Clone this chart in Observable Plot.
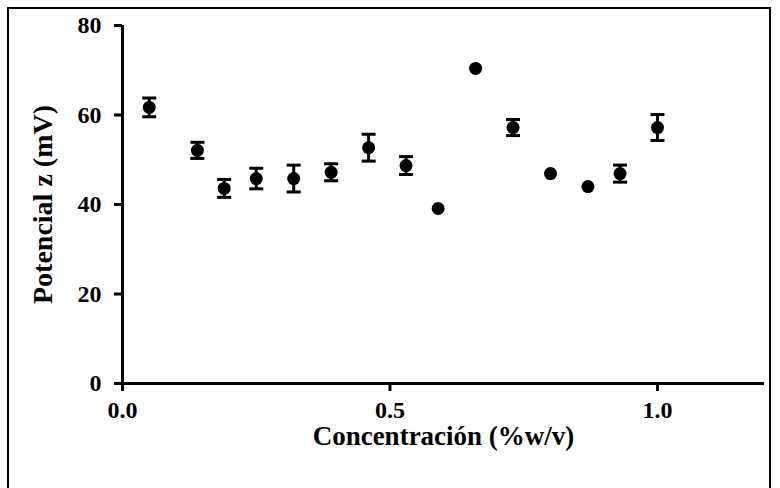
<!DOCTYPE html>
<html>
<head>
<meta charset="utf-8">
<script src="https://cdn.jsdelivr.net/npm/d3@7"></script>
<script src="https://cdn.jsdelivr.net/npm/@observablehq/plot@0.6"></script>
<style>
  html, body { margin: 0; padding: 0; background: #fff; }
  #wrap { position: relative; width: 780px; height: 488px; overflow: hidden; }
  #frame { position: absolute; left: 7px; top: 7px; width: 764px; height: 500px; border: 2px solid #000; box-sizing: border-box; pointer-events: none; }
  #chart { position: absolute; left: 0; top: 0; }
</style>
</head>
<body>
<div id="wrap"><div id="chart"></div><div id="frame"></div></div>
<script>
const concentration = [0.05, 0.14, 0.19, 0.25, 0.32, 0.39, 0.46, 0.53, 0.59, 0.66, 0.73, 0.80, 0.87, 0.93, 1.00];
const potential     = [61.7, 52.1, 43.6, 45.8, 45.8, 47.2, 52.7, 48.7, 39.1, 70.4, 57.2, 46.9, 44.0, 46.9, 57.2];
const errorSD       = [2.1, 1.8, 2.0, 2.3, 3.0, 1.9, 3.0, 2.0, 0, 0, 1.8, 0, 0, 1.9, 2.9];
const xTicks = [0, 0.5, 1.0];
const yTicks = [0, 20, 40, 60, 80];
const xLabel = "Concentración (%w/v)";
const yLabel = "Potencial z (mV)";

const data = concentration.map((c, i) => ({x: c, y: potential[i], e: errorSD[i]}));
const withErr = data.filter(d => d.e > 0);
const caps = withErr.flatMap(d => [{x: d.x, y: d.y + d.e}, {x: d.x, y: d.y - d.e}]);

const capSymbol = {
  draw(ctx, size) {
    const w = 7;
    ctx.moveTo(-w, 0);
    ctx.lineTo(w, 0);
  }
};

const font = "'Liberation Serif', 'Times New Roman', serif";
const fmtX = d3.format(".1f");

const chart = Plot.plot({
  width: 780,
  height: 488,
  marginLeft: 122,
  marginRight: 16,
  marginTop: 25,
  marginBottom: 105,
  style: {fontFamily: font, fontWeight: "bold", fontSize: "24px", color: "#000", background: "transparent"},
  x: {domain: [0, 1.2]},
  y: {domain: [0, 80]},
  marks: [
    Plot.axisX({ticks: xTicks, tickFormat: () => "", tickSize: 8, strokeWidth: 3, label: null}),
    Plot.axisY({ticks: yTicks, tickFormat: () => "", tickSize: 8, strokeWidth: 3, label: null}),
    Plot.text(xTicks, {x: d => d, frameAnchor: "bottom", dy: 27, text: d => fmtX(d), lineAnchor: "middle", textAnchor: "middle", fontSize: 24, fontWeight: "bold", fill: "#000"}),
    Plot.text(yTicks, {y: d => d, frameAnchor: "left", dx: -21, text: d => String(d), lineAnchor: "middle", textAnchor: "end", fontSize: 24, fontWeight: "bold", fill: "#000"}),
    Plot.ruleY([0], {strokeWidth: 3}),
    Plot.ruleX([0], {strokeWidth: 3}),
    Plot.ruleX(withErr, {x: "x", y1: d => d.y - d.e, y2: d => d.y + d.e, strokeWidth: 3}),
    Plot.dot(caps, {x: "x", y: "y", symbol: capSymbol, stroke: "#000", strokeWidth: 3, fill: "none", r: 7}),
    Plot.dot(data, {x: "x", y: "y", r: 6.5, fill: "#000", stroke: "none"}),
    Plot.text([xLabel], {frameAnchor: "bottom", dy: 53, lineAnchor: "middle", fontSize: 27, fontWeight: "bold", fill: "#000"}),
    Plot.text([yLabel], {frameAnchor: "left", dx: -79, rotate: -90, textAnchor: "middle", lineAnchor: "middle", fontSize: 28, fontWeight: "bold", fill: "#000"})
  ]
});
document.getElementById("chart").appendChild(chart);
</script>
</body>
</html>
